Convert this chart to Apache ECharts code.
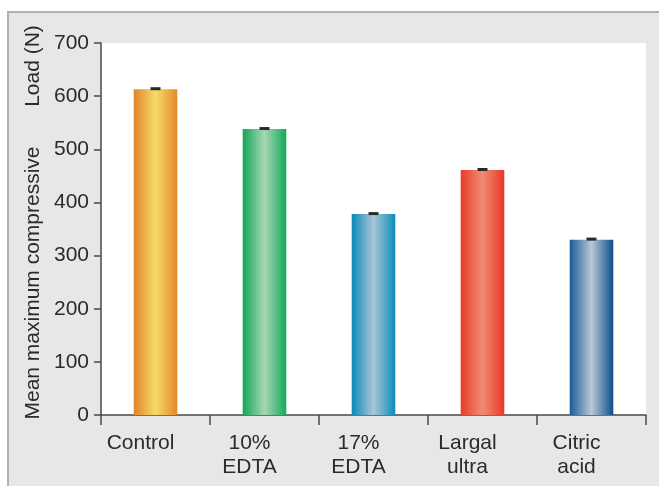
<!DOCTYPE html>
<html>
<head>
<meta charset="utf-8">
<script src="https://cdn.jsdelivr.net/npm/echarts@6/dist/echarts.min.js"></script>
<style>
  html, body { margin: 0; padding: 0; background: #ffffff; }
  #chart { width: 659px; height: 486px; }
</style>
</head>
<body>
<div id="chart"></div>
<script>
// Groups tested and their mean maximum compressive load (N)
const categories = ['Control', '10%\nEDTA', '17%\nEDTA', 'Largal\nultra', 'Citric\nacid'];
const meanLoad = [613, 538, 378, 461, 330];
const errorLoad = [1, 1, 1, 1, 1];
const yTicks = [0, 100, 200, 300, 400, 500, 600, 700];

// Cylinder-like shading per bar: edge, highlight, edge
const barShades = [
  ['#e1832a', '#f4dc6a', '#e5882a'],
  ['#13a658', '#a6d7b5', '#14a95a'],
  ['#0a88ba', '#abc5d3', '#0b8dbd'],
  ['#ea3b2b', '#f08c74', '#e8382a'],
  ['#1a5c95', '#b8c8d6', '#0e4e8a']
];

function shade(c) {
  return {
    type: 'linear', x: 0, y: 0, x2: 1, y2: 0,
    colorStops: [
      { offset: 0, color: c[0] },
      { offset: 0.5, color: c[1] },
      { offset: 1, color: c[2] }
    ]
  };
}

const font = '"Liberation Sans", Arial, Helvetica, sans-serif';
const chart = echarts.init(document.getElementById('chart'));

chart.setOption({
  animation: false,
  backgroundColor: '#ffffff',
  graphic: [
    {
      type: 'rect', z: -10, silent: true,
      shape: { x: 8, y: 12, width: 700, height: 520 },
      style: { fill: '#e6e7e8', stroke: '#b0b1b3', lineWidth: 2 }
    },
    {
      type: 'text', x: 33, y: 283, rotation: Math.PI / 2,
      style: { text: 'Mean maximum compressive', font: '21px ' + font, fill: '#2b2b2b', align: 'center', verticalAlign: 'middle' }
    },
    {
      type: 'text', x: 33, y: 66, rotation: Math.PI / 2,
      style: { text: 'Load (N)', font: '21px ' + font, fill: '#2b2b2b', align: 'center', verticalAlign: 'middle' }
    }
  ],
  grid: {
    left: 101, right: 13, top: 43, bottom: 71,
    show: true, backgroundColor: '#ffffff', borderWidth: 0
  },
  xAxis: {
    type: 'category',
    data: categories,
    axisLine: { lineStyle: { color: '#4a4a4a', width: 1.5 } },
    axisTick: { show: true, length: 10, lineStyle: { color: '#4a4a4a', width: 1.5 } },
    axisLabel: {
      margin: 16, fontSize: 21, lineHeight: 24, fontFamily: font, color: '#2b2b2b',
      padding: [0, 30, 0, 0], interval: 0
    }
  },
  yAxis: {
    type: 'value',
    min: yTicks[0], max: yTicks[yTicks.length - 1], interval: 100,
    axisLine: { show: true, lineStyle: { color: '#4a4a4a', width: 1.5 } },
    axisTick: { show: true, length: 7, lineStyle: { color: '#4a4a4a', width: 1.5 } },
    axisLabel: { margin: 12, fontSize: 21, fontFamily: font, color: '#2b2b2b' },
    splitLine: { show: false }
  },
  series: [
    {
      type: 'bar',
      barWidth: '40%',
      data: meanLoad.map((v, i) => ({ value: v, itemStyle: { color: shade(barShades[i]) } }))
    },
    {
      type: 'custom',
      z: 5,
      data: meanLoad.map((v, i) => [i, v, errorLoad[i]]),
      renderItem: function (params, api) {
        const top = api.coord([api.value(0), api.value(1) + api.value(2)]);
        const low = api.coord([api.value(0), api.value(1) - api.value(2)]);
        const half = 5;
        return {
          type: 'group',
          children: [
            { type: 'line', shape: { x1: top[0], y1: top[1], x2: low[0], y2: low[1] }, style: { stroke: '#2a2a2a', lineWidth: 1.5 } },
            { type: 'line', shape: { x1: top[0] - half, y1: top[1], x2: top[0] + half, y2: top[1] }, style: { stroke: '#2a2a2a', lineWidth: 3 } }
          ]
        };
      }
    }
  ]
});
</script>
</body>
</html>
